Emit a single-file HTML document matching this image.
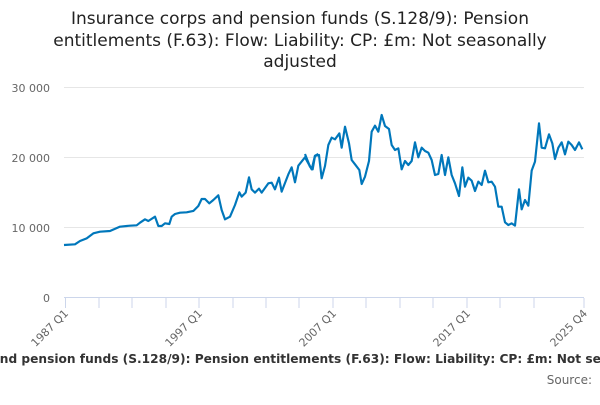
<!DOCTYPE html>
<html><head><meta charset="utf-8"><style>
body{margin:0;width:600px;height:400px;overflow:hidden;background:#fff;font-family:"Liberation Sans","DejaVu Sans",sans-serif}
</style></head><body>
<svg width="600" height="400" xmlns="http://www.w3.org/2000/svg" style="font-family:'DejaVu Sans','Liberation Sans',sans-serif">
<defs><marker id="m" markerWidth="4" markerHeight="4" refX="2" refY="2" markerUnits="userSpaceOnUse" viewBox="0 0 4 4"><circle cx="2" cy="2" r="1.6" fill="#0077bb"/></marker></defs>
<g font-size="17" fill="#222" text-anchor="middle">
<text x="300" y="24">Insurance corps and pension funds (S.128/9): Pension</text>
<text x="300" y="46">entitlements (F.63): Flow: Liability: CP: £m: Not seasonally</text>
<text x="300" y="67">adjusted</text>
</g>
<g stroke="#e6e6e6" stroke-width="1">
<line x1="64" x2="584" y1="87.5" y2="87.5"/>
<line x1="64" x2="584" y1="157.5" y2="157.5"/>
<line x1="64" x2="584" y1="227.5" y2="227.5"/>
</g>
<line x1="64" x2="584" y1="297.5" y2="297.5" stroke="#ccd6eb"/>
<g stroke="#ccd6eb">
<line x1="65.5" x2="65.5" y1="298" y2="308"/><line x1="99" x2="99" y1="298" y2="308"/><line x1="132" x2="132" y1="298" y2="308"/><line x1="166" x2="166" y1="298" y2="308"/><line x1="199" x2="199" y1="298" y2="308"/><line x1="233" x2="233" y1="298" y2="308"/><line x1="266" x2="266" y1="298" y2="308"/><line x1="299" x2="299" y1="298" y2="308"/><line x1="333" x2="333" y1="298" y2="308"/><line x1="366" x2="366" y1="298" y2="308"/><line x1="400" x2="400" y1="298" y2="308"/><line x1="433" x2="433" y1="298" y2="308"/><line x1="467" x2="467" y1="298" y2="308"/><line x1="500" x2="500" y1="298" y2="308"/><line x1="534" x2="534" y1="298" y2="308"/><line x1="584" x2="584" y1="298" y2="308"/>
</g>
<g font-size="11" fill="#666" text-anchor="end">
<text x="50" y="92">30 000</text><text x="50" y="162">20 000</text><text x="50" y="232">10 000</text><text x="50" y="302">0</text>
</g>
<g font-size="11" fill="#666" text-anchor="end">
<text transform="translate(69,314) rotate(-45)">1987 Q1</text>
<text transform="translate(203,314) rotate(-45)">1997 Q1</text>
<text transform="translate(337,314) rotate(-45)">2007 Q1</text>
<text transform="translate(471,314) rotate(-45)">2017 Q1</text>
<text transform="translate(588,314) rotate(-45)">2025 Q4</text>
</g>
<g transform="translate(50,80) scale(0.33333)">
<polyline fill="none" stroke="#0077bb" stroke-width="6.5" stroke-linejoin="round" points="42,495 75,493 90,483 110,475 130,460 150,455 180,453 210,440 240,437 260,436 270,428 285,418 295,423 315,410 325,438 335,438 345,430 358,432 365,410 375,402 390,398 410,397 430,393 445,378 455,357 465,357 478,370 490,360 505,346 515,390 525,418 540,410 555,375 568,337 575,350 587,338 597,292 605,328 615,338 627,326 635,338 655,310 665,308 675,328 687,293 695,335 715,283 725,262 735,307 745,257 765,232 785,268 795,227 805,222"/>
</g>
<g transform="translate(310,80) scale(0.33333)">
<polyline fill="none" stroke="#0077bb" stroke-width="6.5" stroke-linejoin="round" points="-15,222 0,260 8,268 15,228 27,225 35,295 45,258 55,195 65,173 75,178 88,160 95,203 105,140 117,190 125,240 135,253 148,270 155,312 165,290 177,243 185,155 195,137 205,155 215,105 225,138 237,147 245,195 255,210 265,205 275,268 285,243 295,255 305,243 315,187 325,232 335,203 345,213 355,218 365,240 375,285 385,282 395,225 405,285 415,232 425,285 435,310 447,348 457,262 465,320 475,293 485,302 495,333 505,305 515,315 525,272 535,307 545,305 555,320 565,380 575,380 585,427 595,435 605,430 615,437 627,328 635,388 645,360 655,377 665,272 675,245 687,130 695,203 705,205 717,163 727,190 735,237 745,203 755,187 765,223 775,185 785,195 795,210 807,187 817,208"/>
</g>
<text x="300" y="363" font-size="12.2" font-weight="bold" fill="#333" text-anchor="middle">Insurance corps and pension funds (S.128/9): Pension entitlements (F.63): Flow: Liability: CP: £m: Not seasonally adjusted</text>
<text x="592" y="384" font-size="12" fill="#666" text-anchor="end">Source:</text>
</svg>
</body></html>
